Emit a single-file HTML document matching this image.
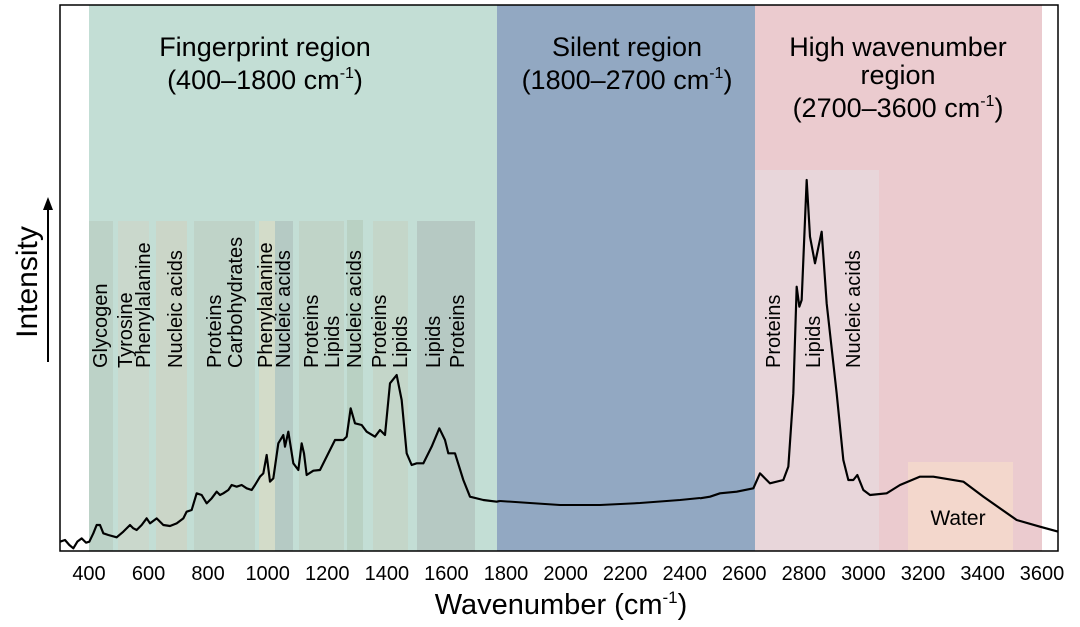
<!DOCTYPE html>
<html><head><meta charset="utf-8"><style>
html,body{margin:0;padding:0;background:#fff;}
svg{display:block;font-family:"Liberation Sans",Arial,sans-serif;}
</style></head><body>
<svg width="1080" height="627" viewBox="0 0 1080 627" xmlns="http://www.w3.org/2000/svg">
<rect x="0" y="0" width="1080" height="627" fill="#fff"/>
<rect x="89" y="5" width="408" height="546" fill="#c3ded5"/>
<rect x="497" y="5" width="258" height="546" fill="#92a8c2"/>
<rect x="755" y="5" width="287" height="546" fill="#ebcbcf"/>
<g>
<rect x="89" y="221" width="24" height="330" fill="#bcd2c7"/>
<rect x="118" y="221" width="31" height="330" fill="#cad8cc"/>
<rect x="156" y="221" width="31" height="330" fill="#cbd6c8"/>
<rect x="194" y="221" width="61" height="330" fill="#bfd3c8"/>
<rect x="259" y="221" width="16" height="330" fill="#d3dcc9"/>
<rect x="275" y="221" width="18" height="330" fill="#b5cac4"/>
<rect x="299" y="221" width="45" height="330" fill="#c0d4c8"/>
<rect x="347" y="220" width="16" height="331" fill="#b9d1c3"/>
<rect x="373" y="221" width="35" height="330" fill="#c4d6c9"/>
<rect x="417" y="221" width="58" height="330" fill="#b6c9c3"/>
<rect x="755" y="170" width="124" height="381" fill="#e8d6da"/>
<rect x="908" y="462" width="105" height="89" fill="#f3d7cc"/>
</g>
<rect x="60" y="5" width="998" height="546" fill="none" stroke="#000" stroke-width="1.5"/>
<g transform="translate(50,200) scale(0.33333)" fill="none" stroke="#000" stroke-width="6.5" stroke-linejoin="round">
<polyline points="30,1025 45,1020 58,1035 70,1045 82,1025 95,1015 108,1028 118,1025 130,1000 140,975 150,975 160,1000 175,1005 200,1012 220,995 240,975 250,985 260,990 275,975 290,955 300,970 320,955 340,975 360,978 380,970 400,955 410,935 425,930 440,880 455,885 470,910 485,895 500,875 510,885 520,880 535,870 545,855 560,860 575,855 590,865 605,870 615,855 630,830 640,820 650,765 660,845 670,835 685,730 700,705 705,740 715,695 730,790 745,810 755,730 762,760 770,825 790,812 810,810 830,770 855,720 880,720 890,710 902,625 915,670 935,675 950,695 975,710 990,690 1005,705 1020,550 1040,525 1055,600 1070,760 1085,795 1100,790 1120,790 1145,740 1168,685 1185,720 1195,760 1215,760 1240,840 1260,890 1300,900 1340,905 1350,903"/>
</g>
<polyline points="500,501 530,503 560,505 600,505 640,503 680,500 700,498" fill="none" stroke="#000" stroke-width="2"/>
<g transform="translate(700,160) scale(0.33333)" fill="none" stroke="#000" stroke-width="6.5" stroke-linejoin="round">
<polyline points="0,1015 30,1010 60,1000 110,995 160,985 180,940 195,955 210,970 250,960 265,920 280,700 290,380 298,440 305,420 320,60 330,230 345,310 365,215 380,430 410,700 430,900 445,960 460,960 472,945 490,990 510,1005 560,1000 600,975 660,950 700,950 790,965 850,1010 950,1080 1020,1100 1075,1115"/>
</g>
<g font-size="20" fill="#000">
<text transform="translate(107,368) rotate(-90)">Glycogen</text>
<text transform="translate(132,368) rotate(-90)">Tyrosine</text>
<text transform="translate(150,368) rotate(-90)">Phenylalanine</text>
<text transform="translate(182,368) rotate(-90)">Nucleic acids</text>
<text transform="translate(221,368) rotate(-90)">Proteins</text>
<text transform="translate(242,368) rotate(-90)">Carbohydrates</text>
<text transform="translate(272,368) rotate(-90)">Phenylalanine</text>
<text transform="translate(290,368) rotate(-90)">Nucleic acids</text>
<text transform="translate(318,368) rotate(-90)">Proteins</text>
<text transform="translate(339,368) rotate(-90)">Lipids</text>
<text transform="translate(361,368) rotate(-90)">Nucleic acids</text>
<text transform="translate(386,368) rotate(-90)">Proteins</text>
<text transform="translate(407,368) rotate(-90)">Lipids</text>
<text transform="translate(440,368) rotate(-90)">Lipids</text>
<text transform="translate(464,368) rotate(-90)">Proteins</text>
<text transform="translate(780,368) rotate(-90)">Proteins</text>
<text transform="translate(820,368) rotate(-90)">Lipids</text>
<text transform="translate(860,368) rotate(-90)">Nucleic acids</text>
<text x="958" y="525" text-anchor="middle" font-size="21">Water</text>
</g>
<g font-size="27" fill="#000" text-anchor="middle">
<text x="265" y="56">Fingerprint region</text>
<text x="265" y="89">(400–1800 cm<tspan font-size="16" dy="-11">-1</tspan><tspan dy="11">)</tspan></text>
<text x="627" y="56">Silent region</text>
<text x="627" y="89">(1800–2700 cm<tspan font-size="16" dy="-11">-1</tspan><tspan dy="11">)</tspan></text>
<text x="898" y="56">High wavenumber</text>
<text x="898" y="84">region</text>
<text x="898" y="117">(2700–3600 cm<tspan font-size="16" dy="-11">-1</tspan><tspan dy="11">)</tspan></text>
</g>
<g font-size="20" fill="#000" text-anchor="middle">
<text x="89" y="580">400</text>
<text x="148.6" y="580">600</text>
<text x="208.1" y="580">800</text>
<text x="267.7" y="580">1000</text>
<text x="327.3" y="580">1200</text>
<text x="386.9" y="580">1400</text>
<text x="446.4" y="580">1600</text>
<text x="506" y="580">1800</text>
<text x="565.6" y="580">2000</text>
<text x="625.1" y="580">2200</text>
<text x="684.7" y="580">2400</text>
<text x="744.3" y="580">2600</text>
<text x="803.9" y="580">2800</text>
<text x="863.4" y="580">3000</text>
<text x="923" y="580">3200</text>
<text x="982.6" y="580">3400</text>
<text x="1042" y="580">3600</text>
</g>
<text x="561" y="614" font-size="29" text-anchor="middle">Wavenumber (cm<tspan font-size="17" dy="-11">-1</tspan><tspan dy="11">)</tspan></text>
<text transform="translate(37,282) rotate(-90)" font-size="30" text-anchor="middle">Intensity</text>
<line x1="48" y1="362" x2="48" y2="208" stroke="#000" stroke-width="2"/>
<polygon points="48,197 43,210 53,210" fill="#000"/>
</svg>
</body></html>
